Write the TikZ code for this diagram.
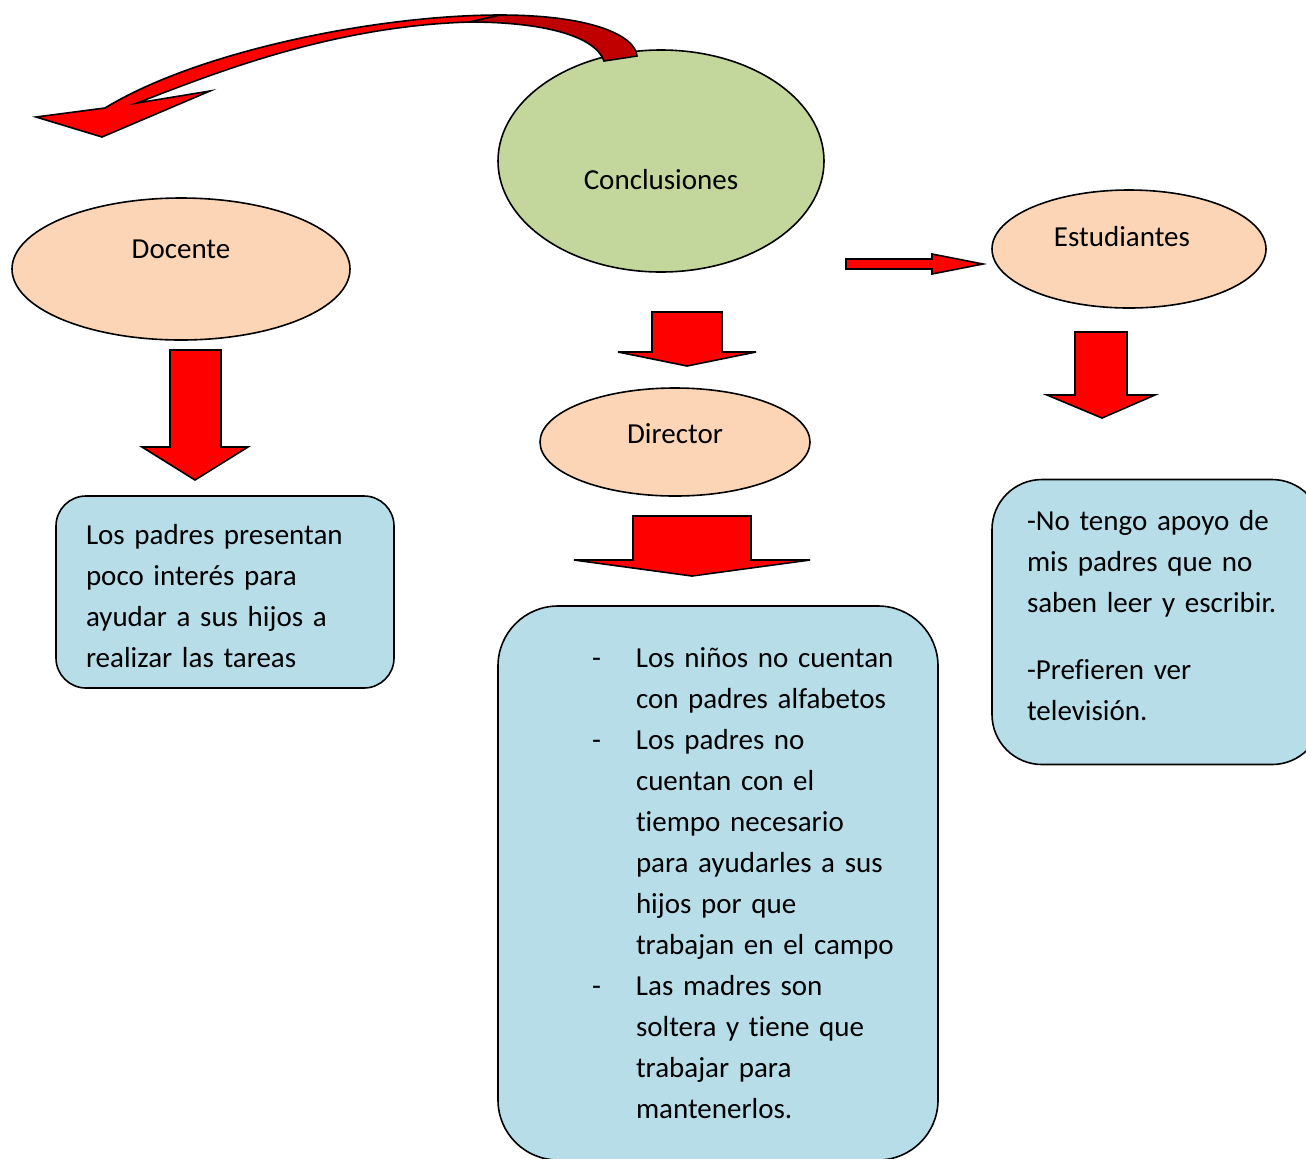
\documentclass[tikz,border=0pt]{standalone}
\usepackage{fontspec}
\setmainfont{Carlito}[Ligatures=NoCommon]
\usetikzlibrary{shapes.geometric}
\definecolor{verdeC}{HTML}{C3D69B}
\definecolor{durazno}{HTML}{FBD5B5}
\definecolor{celeste}{HTML}{B7DDE8}
\definecolor{rojoO}{HTML}{C00000}
\newcommand{\guion}{\hspace*{32pt}\makebox[22pt][l]{-}}
\newcommand{\sigue}{\hspace*{54pt}}
\tikzset{
  ovalo/.style={ellipse,draw=black,line width=0.8pt,fill=durazno,inner sep=0pt},
  caja/.style={draw=black,line width=0.8pt,fill=celeste,align=left,inner ysep=0pt},
  flecha/.style={draw=black,line width=0.8pt,fill=red,line join=miter},
  every node/.style={font=\fontsize{14.5}{20.5}\selectfont}
}
\begin{document}
\begin{tikzpicture}[x=0.5pt,y=-0.5pt]
\clip (0,0) rectangle (1306,1158);
\fill[white] (0,0) rectangle (1306,1158);
% ovalos
\node[ovalo,fill=verdeC,minimum width=163pt,minimum height=111pt,label={[yshift=-9.5pt]center:Conclusiones}] (concl) at (661,161) {};
\node[ovalo,minimum width=169pt,minimum height=71pt,label={[yshift=10pt]center:Docente}] (doc) at (181,269) {};
\node[ovalo,minimum width=137pt,minimum height=59pt,label={[yshift=6pt,xshift=-3.5pt]center:Estudiantes}] (est) at (1129,249) {};
\node[ovalo,minimum width=135pt,minimum height=54pt,label={[yshift=4pt]center:Director}] (dir) at (675,442) {};
% cajas
\node[caja,rounded corners=15pt,minimum width=169pt,minimum height=96pt,text width=139pt,inner xsep=15pt] (cajadoc) at (225,592) {\rule{0pt}{14pt}Los padres presentan\\ poco interés para\\ ayudar a sus hijos a\\ realizar las tareas};
\node[caja,rounded corners=30pt,minimum width=220pt,minimum height=277pt,text width=190pt,inner xsep=15pt] (cajadir) at (718,883) {\guion Los niños no cuentan\\ \sigue con padres alfabetos\\ \guion Los padres no\\ \sigue cuentan con el\\ \sigue tiempo necesario\\ \sigue para ayudarles a sus\\ \sigue hijos por que\\ \sigue trabajan en el campo\\ \guion Las madres son\\ \sigue soltera y tiene que\\ \sigue trabajar para\\ \sigue mantenerlos.};
\node[caja,rounded corners=25pt,minimum width=165pt,minimum height=142.5pt,text width=130pt,inner xsep=17.5pt] (cajaest) at (1157,622) {-No tengo apoyo de\\ mis padres que no\\ saben leer y escribir.\\[13pt] -Prefieren ver\\ televisión.\rule[-7pt]{0pt}{0pt}};
% flechas de bloque
\draw[flecha] (170,350) -- (221,350) -- (221,447) -- (248,447) -- (195,480) -- (142,447) -- (170,447) -- cycle;
\draw[flecha] (652,312) -- (722,312) -- (722,352) -- (756,352) -- (687,366) -- (618,352) -- (652,352) -- cycle;
\draw[flecha] (633,516) -- (751,516) -- (751,560) -- (810,560) -- (692,576) -- (574,560) -- (633,560) -- cycle;
\draw[flecha] (846,259) -- (932,259) -- (932,254) -- (983,264) -- (932,274) -- (932,269) -- (846,269) -- cycle;
\draw[flecha] (1075,332) -- (1127,332) -- (1127,395) -- (1155,395) -- (1102,418) -- (1047,395) -- (1075,395) -- cycle;
% flecha curva
\draw[flecha] (36,117) -- (105,108) .. controls (200,50) and (380,15) .. (500,15) -- (470,22) .. controls (330,26) and (210,75) .. (137,103) -- (210,91) -- (102,137) -- cycle;
\draw[flecha,fill=rojoO] (500,15) .. controls (590,15) and (635,35) .. (637,56) -- (604,61) .. controls (595,35) and (540,22) .. (470,22) -- cycle;
\end{tikzpicture}
\end{document}
